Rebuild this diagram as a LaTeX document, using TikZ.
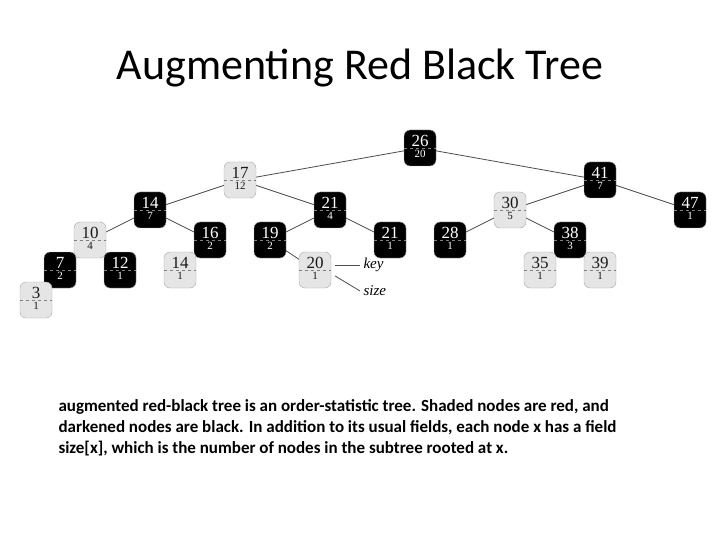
\documentclass[tikz,border=0pt]{standalone}
\usepackage{fontspec}
\setmainfont{Carlito}
\newfontfamily\treefont{Liberation Serif}
\usetikzlibrary{positioning}

\tikzset{
    rbbox/.style={draw=gray!70, rounded corners=6pt, minimum width=32pt, minimum height=36pt, inner sep=0pt},
    rednode/.style={rbbox, fill=gray!20, text=gray!20!black},
    blacknode/.style={rbbox, fill=black, text=white},
    keytext/.style={font=\treefont\fontsize{17}{17}\selectfont},
    sizetext/.style={font=\treefont\fontsize{11}{11}\selectfont},
    edge/.style={draw=gray!60!black, line width=0.8pt}
}

% key over size, dashed divider
\newcommand{\rbnode}[6]{%
  \node[#6] (#1) at (#2,#3) {};
  \draw[dashed, #6, draw=gray] (#1.west) -- (#1.east);
  \node[keytext, #6, draw=none, fill=none, minimum width=0pt, minimum height=0pt, anchor=south, inner sep=1pt] at (#1.center) {#4};
  \node[sizetext, #6, draw=none, fill=none, minimum width=0pt, minimum height=0pt, anchor=north, inner sep=2pt] at (#1.center) {#5};
}

\begin{document}
\begin{tikzpicture}[x=1pt, y=-1pt]
\useasboundingbox (0,0) rectangle (720,540);

% title
\node[font=\fontsize{44}{44}\selectfont] (title) at (360,68) {Augmenting Red Black Tree};

% edges first, nodes drawn on top
\coordinate (p26) at (420,148); \coordinate (p17) at (240,180); \coordinate (p41) at (600,180);
\coordinate (p14) at (150,210); \coordinate (p21a) at (330,210); \coordinate (p30) at (510,210);
\coordinate (p47) at (690,210); \coordinate (p10) at (90,240); \coordinate (p16) at (210,240);
\coordinate (p19) at (270,240); \coordinate (p21b) at (390,240); \coordinate (p28) at (450,240);
\coordinate (p38) at (570,240); \coordinate (p7) at (60,270); \coordinate (p12) at (120,270);
\coordinate (p14b) at (180,270); \coordinate (p20) at (315,270); \coordinate (p35) at (540,270);
\coordinate (p39) at (600,270); \coordinate (p3) at (36,300);

\foreach \a/\b in {26/17, 26/41, 17/14, 17/21a, 41/30, 41/47, 14/10, 14/16, 21a/19, 21a/21b,
    30/28, 30/38, 10/7, 10/12, 16/14b, 19/20, 38/35, 38/39, 7/3}
  \draw[edge] (p\a) -- (p\b);

\rbnode{n26}{420}{148}{26}{20}{blacknode}
\rbnode{n17}{240}{180}{17}{12}{rednode}
\rbnode{n41}{600}{180}{41}{7}{blacknode}
\rbnode{n14}{150}{210}{14}{7}{blacknode}
\rbnode{n21a}{330}{210}{21}{4}{blacknode}
\rbnode{n30}{510}{210}{30}{5}{rednode}
\rbnode{n47}{690}{210}{47}{1}{blacknode}
\rbnode{n10}{90}{240}{10}{4}{rednode}
\rbnode{n16}{210}{240}{16}{2}{blacknode}
\rbnode{n19}{270}{240}{19}{2}{blacknode}
\rbnode{n21b}{390}{240}{21}{1}{blacknode}
\rbnode{n28}{450}{240}{28}{1}{blacknode}
\rbnode{n38}{570}{240}{38}{3}{blacknode}
\rbnode{n7}{60}{270}{7}{2}{blacknode}
\rbnode{n12}{120}{270}{12}{1}{blacknode}
\rbnode{n14b}{180}{270}{14}{1}{rednode}
\rbnode{n20}{315}{270}{20}{1}{rednode}
\rbnode{n35}{540}{270}{35}{1}{rednode}
\rbnode{n39}{600}{270}{39}{1}{rednode}
\rbnode{n3}{36}{300}{3}{1}{rednode}

% legend
\node[font=\treefont\itshape\fontsize{15}{15}\selectfont, anchor=west] (key) at (360,265) {key};
\node[font=\treefont\itshape\fontsize{15}{15}\selectfont, anchor=west] (size) at (360,291) {size};
\draw[edge] ([xshift=4pt]n20.east |- key.west) -- (key.west);
\draw[edge] ([xshift=4pt,yshift=-6pt]n20.east) -- (size.west);

% caption
\node[font=\bfseries\fontsize{17}{21}\selectfont, anchor=north west, align=left] (caption) at (55,396)
  {augmented red-black tree is an order-statistic tree. Shaded nodes are red, and\\
   darkened nodes are black. In addition to its usual fields, each node x has a field\\
   size[x], which is the number of nodes in the subtree rooted at x.};
\end{tikzpicture}
\end{document}
